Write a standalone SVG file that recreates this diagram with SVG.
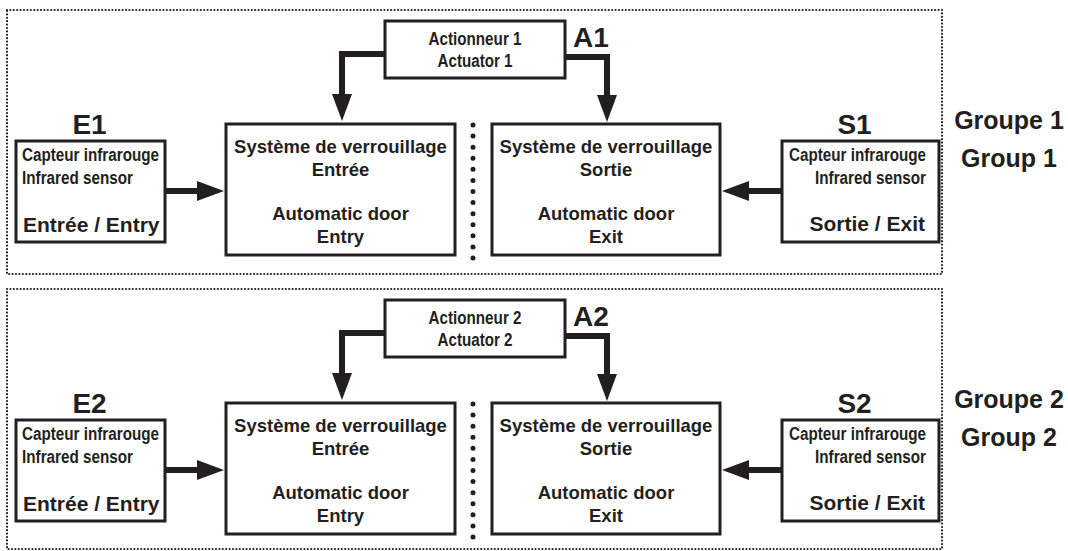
<svg xmlns="http://www.w3.org/2000/svg" width="1068" height="551" viewBox="0 0 1068 551">
<defs>
<style>
.grp{fill:none;stroke:#231f20;stroke-width:2.2;stroke-linecap:round;stroke-dasharray:0 3.4}
.box{fill:#fff;stroke:#231f20;stroke-width:3}
.t{font-family:"Liberation Sans",Arial,sans-serif;font-weight:bold;fill:#231f20}
.lab{font-size:28px}
.nar{font-size:17.5px}
.mid{font-size:18.5px;text-anchor:middle}
.bot{font-size:21px}
.gl{font-size:25px;text-anchor:middle}
.c{text-anchor:middle}
.e{text-anchor:end}
.con{fill:none;stroke:#231f20;stroke-width:6;stroke-linejoin:miter;marker-end:url(#ah)}
.sep{fill:none;stroke:#231f20;stroke-width:5;stroke-linecap:round;stroke-dasharray:0 11.08}
</style>
<marker id="ah" markerUnits="userSpaceOnUse" markerWidth="28" markerHeight="21" refX="0" refY="10" orient="auto" viewBox="0 0 28 20" overflow="visible">
<path d="M0,0 L27,10 L0,20 Z" fill="#231f20"/>
</marker>
</defs>
<rect width="1068" height="551" fill="#fff"/>

<!-- Group 1 (offset 0) -->
<g id="group1">
<rect class="grp" x="7" y="10" width="935" height="264"/>
<g id="g1-separator"><path class="sep" d="M473,125 V258"/></g>
<g id="A1">
<rect class="box" x="385" y="21" width="180" height="57"/>
<text class="t nar c" x="475" y="45" textLength="93" lengthAdjust="spacingAndGlyphs">Actionneur 1</text>
<text class="t nar c" x="475" y="67" textLength="75" lengthAdjust="spacingAndGlyphs">Actuator 1</text>
<text class="t lab" x="573" y="47">A1</text>
</g>
<g id="E1">
<text class="t lab c" x="89.5" y="134">E1</text>
<rect class="box" x="16" y="141" width="149" height="101"/>
<text class="t nar" x="22" y="161" textLength="137" lengthAdjust="spacingAndGlyphs">Capteur infrarouge</text>
<text class="t nar" x="22" y="184" textLength="111" lengthAdjust="spacingAndGlyphs">Infrared sensor</text>
<text class="t bot" x="23" y="232">Entrée / Entry</text>
</g>
<g id="lock-entry-1">
<rect class="box" x="226" y="124" width="229" height="131"/>
<text class="t mid" x="340.5" y="153">Système de verrouillage</text>
<text class="t mid" x="340.5" y="176">Entrée</text>
<text class="t mid" x="340.5" y="220">Automatic door</text>
<text class="t mid" x="340.5" y="243">Entry</text>
</g>
<g id="lock-exit-1">
<rect class="box" x="492" y="124" width="228" height="131"/>
<text class="t mid" x="606" y="153">Système de verrouillage</text>
<text class="t mid" x="606" y="176">Sortie</text>
<text class="t mid" x="606" y="220">Automatic door</text>
<text class="t mid" x="606" y="243">Exit</text>
</g>
<g id="S1">
<text class="t lab c" x="854.5" y="134">S1</text>
<rect class="box" x="782" y="141" width="157" height="101"/>
<text class="t nar e" x="926" y="161" textLength="137" lengthAdjust="spacingAndGlyphs">Capteur infrarouge</text>
<text class="t nar e" x="926" y="184" textLength="111" lengthAdjust="spacingAndGlyphs">Infrared sensor</text>
<text class="t bot e" x="925" y="231">Sortie / Exit</text>
</g>
<g id="label-group1">
<text class="t gl" x="1009" y="129">Groupe 1</text>
<text class="t gl" x="1009" y="167">Group 1</text>
</g>
<g id="connectors-1">
<path class="con" d="M165,191 H197"/>
<path class="con" d="M782,191 H749"/>
<path class="con" d="M385,54 H342 V94"/>
<path class="con" d="M565,57 H607 V95"/>
</g>
</g>

<!-- Group 2 (offset 279) -->
<g id="group2">
<rect class="grp" x="7" y="289" width="935" height="260"/>
<g id="g2-separator"><path class="sep" d="M473,404 V537"/></g>
<g id="A2">
<rect class="box" x="385" y="300" width="180" height="57"/>
<text class="t nar c" x="475" y="324" textLength="93" lengthAdjust="spacingAndGlyphs">Actionneur 2</text>
<text class="t nar c" x="475" y="346" textLength="75" lengthAdjust="spacingAndGlyphs">Actuator 2</text>
<text class="t lab" x="573" y="326">A2</text>
</g>
<g id="E2">
<text class="t lab c" x="89.5" y="413">E2</text>
<rect class="box" x="16" y="420" width="149" height="101"/>
<text class="t nar" x="22" y="440" textLength="137" lengthAdjust="spacingAndGlyphs">Capteur infrarouge</text>
<text class="t nar" x="22" y="463" textLength="111" lengthAdjust="spacingAndGlyphs">Infrared sensor</text>
<text class="t bot" x="23" y="511">Entrée / Entry</text>
</g>
<g id="lock-entry-2">
<rect class="box" x="226" y="403" width="229" height="131"/>
<text class="t mid" x="340.5" y="432">Système de verrouillage</text>
<text class="t mid" x="340.5" y="455">Entrée</text>
<text class="t mid" x="340.5" y="499">Automatic door</text>
<text class="t mid" x="340.5" y="522">Entry</text>
</g>
<g id="lock-exit-2">
<rect class="box" x="492" y="403" width="228" height="131"/>
<text class="t mid" x="606" y="432">Système de verrouillage</text>
<text class="t mid" x="606" y="455">Sortie</text>
<text class="t mid" x="606" y="499">Automatic door</text>
<text class="t mid" x="606" y="522">Exit</text>
</g>
<g id="S2">
<text class="t lab c" x="854.5" y="413">S2</text>
<rect class="box" x="782" y="420" width="157" height="101"/>
<text class="t nar e" x="926" y="440" textLength="137" lengthAdjust="spacingAndGlyphs">Capteur infrarouge</text>
<text class="t nar e" x="926" y="463" textLength="111" lengthAdjust="spacingAndGlyphs">Infrared sensor</text>
<text class="t bot e" x="925" y="510">Sortie / Exit</text>
</g>
<g id="label-group2">
<text class="t gl" x="1009" y="408">Groupe 2</text>
<text class="t gl" x="1009" y="446">Group 2</text>
</g>
<g id="connectors-2">
<path class="con" d="M165,470 H197"/>
<path class="con" d="M782,470 H749"/>
<path class="con" d="M385,333 H342 V373"/>
<path class="con" d="M565,336 H607 V374"/>
</g>
</g>
</svg>
